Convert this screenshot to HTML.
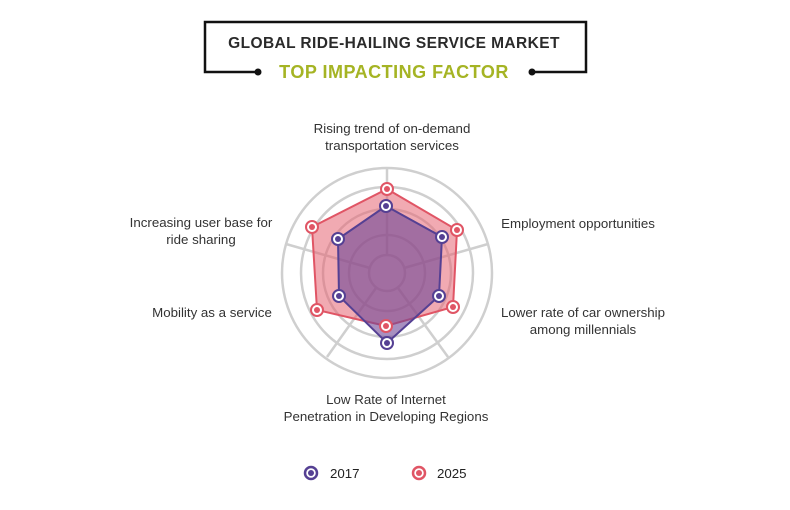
<!DOCTYPE html>
<html><head><style>
body{margin:0;background:#fff;}
svg{display:block;font-family:"Liberation Sans",sans-serif;}
</style></head><body>
<svg width="790" height="510" viewBox="0 0 790 510">
<polyline points="258,72 205,72 205,22 586,22 586,72 532,72" fill="none" stroke="#111" stroke-width="2.5"/>
<circle cx="258" cy="72" r="3.5" fill="#111"/><circle cx="532" cy="72" r="3.5" fill="#111"/>
<text x="394" y="48" text-anchor="middle" font-size="15.5" font-weight="bold" fill="#2a2a2a" letter-spacing="0.4">GLOBAL RIDE-HAILING SERVICE MARKET</text>
<text x="394" y="78" text-anchor="middle" font-size="18" font-weight="bold" fill="#a5b424" letter-spacing="0.5">TOP IMPACTING FACTOR</text>
<g fill="none" stroke="#cfcfcf" stroke-width="2.5">
<circle cx="387" cy="273" r="105"/><circle cx="387" cy="273" r="86"/><circle cx="387" cy="273" r="64"/><circle cx="387" cy="273" r="38"/><circle cx="387" cy="273" r="18"/>
<line x1="387" y1="255" x2="387" y2="168"/>
<line x1="404" y1="268" x2="488" y2="244"/>
<line x1="398" y1="288" x2="448" y2="357"/>
<line x1="376" y1="288" x2="327" y2="357"/>
<line x1="370" y1="268" x2="286" y2="244"/>
</g>
<polygon points="387,189 457,230 453,307 386,326 317,310 312,227" fill="rgba(230,100,115,0.55)" stroke="#e05565" stroke-width="2"/>
<polygon points="386,206 442,237 439,296 387,343 339,296 338,239" fill="rgba(110,70,150,0.6)" stroke="#554093" stroke-width="2"/>
<g stroke="#e05565" stroke-width="2" fill="#fff">
<circle cx="387" cy="189" r="6"/><circle cx="457" cy="230" r="6"/><circle cx="453" cy="307" r="6"/><circle cx="386" cy="326" r="6"/><circle cx="317" cy="310" r="6"/><circle cx="312" cy="227" r="6"/>
</g>
<g fill="#e05565"><circle cx="387" cy="189" r="3"/><circle cx="457" cy="230" r="3"/><circle cx="453" cy="307" r="3"/><circle cx="386" cy="326" r="3"/><circle cx="317" cy="310" r="3"/><circle cx="312" cy="227" r="3"/></g>
<g stroke="#554093" stroke-width="2" fill="#fff">
<circle cx="386" cy="206" r="6"/><circle cx="442" cy="237" r="6"/><circle cx="439" cy="296" r="6"/><circle cx="387" cy="343" r="6"/><circle cx="339" cy="296" r="6"/><circle cx="338" cy="239" r="6"/>
</g>
<g fill="#554093"><circle cx="386" cy="206" r="3"/><circle cx="442" cy="237" r="3"/><circle cx="439" cy="296" r="3"/><circle cx="387" cy="343" r="3"/><circle cx="339" cy="296" r="3"/><circle cx="338" cy="239" r="3"/></g>
<g font-size="13.3" fill="#333" text-anchor="middle">
<text x="392" y="133">Rising trend of on-demand</text>
<text x="392" y="150">transportation services</text>
<text x="578" y="228">Employment opportunities</text>
<text x="583" y="317">Lower rate of car ownership</text>
<text x="583" y="334">among millennials</text>
<text x="386" y="404">Low Rate of Internet</text>
<text x="386" y="421">Penetration in Developing Regions</text>
<text x="212" y="317">Mobility as a service</text>
<text x="201" y="227">Increasing user base for</text>
<text x="201" y="244">ride sharing</text>
</g>
<circle cx="311" cy="473" r="6" fill="#fff" stroke="#554093" stroke-width="2.5"/><circle cx="311" cy="473" r="3" fill="#554093"/>
<text x="330" y="478" font-size="13.3" fill="#222">2017</text>
<circle cx="419" cy="473" r="6" fill="#fff" stroke="#e05565" stroke-width="2.5"/><circle cx="419" cy="473" r="3" fill="#e05565"/>
<text x="437" y="478" font-size="13.3" fill="#222">2025</text>
</svg>
</body></html>
